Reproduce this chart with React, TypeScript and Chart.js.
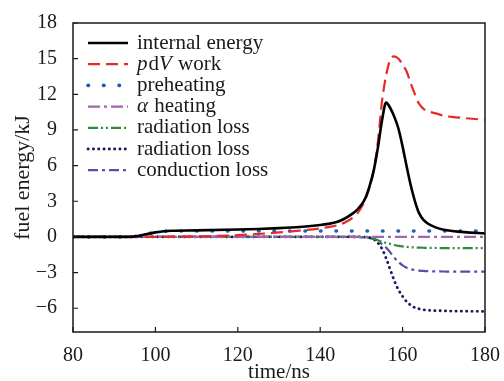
import { useEffect, useRef } from 'react';
import { Chart, registerables } from 'chart.js';
Chart.register(...registerables);

const times = [80, 90, 94, 96, 98, 100, 102, 104, 110, 120, 125, 130, 135, 140, 142, 144, 146, 148, 149, 150, 151, 152, 153, 154, 155, 156, 157, 158, 159, 160, 161, 162, 163, 164, 165, 166, 168, 170, 172, 175, 180];

const internalEnergy = [0, 0, 0, 0.1, 0.25, 0.38, 0.48, 0.52, 0.55, 0.62, 0.67, 0.74, 0.84, 1.0, 1.1, 1.25, 1.55, 2.0, 2.3, 2.7, 3.3, 4.3, 5.6, 7.5, 9.8, 11.3, 10.85, 10.1, 9.1, 7.6, 5.9, 4.3, 3.0, 2.0, 1.45, 1.15, 0.8, 0.6, 0.5, 0.4, 0.3];
const pdVWork = [0, 0, 0, 0, 0, 0, 0.01, 0.02, 0.05, 0.15, 0.25, 0.38, 0.53, 0.72, 0.82, 0.97, 1.22, 1.65, 1.97, 2.5, 3.2, 4.2, 5.6, 8.0, 11.4, 13.6, 14.9, 15.2, 15.0, 14.5, 13.9, 12.9, 12.0, 11.2, 10.8, 10.6, 10.4, 10.2, 10.1, 10.0, 9.85];
const preheating = [0, 0, 0, 0.1, 0.25, 0.38, 0.47, 0.5, 0.5, 0.5, 0.5, 0.5, 0.5, 0.5, 0.5, 0.5, 0.5, 0.5, 0.5, 0.5, 0.5, 0.5, 0.5, 0.5, 0.5, 0.5, 0.5, 0.5, 0.5, 0.5, 0.5, 0.5, 0.5, 0.5, 0.5, 0.5, 0.5, 0.5, 0.5, 0.5, 0.5];
const alphaHeating = [0, 0, 0, 0, 0, 0, 0, 0, 0, 0, 0, 0, 0, 0, 0, 0, 0, 0, 0, 0, 0, 0, 0, 0, 0, 0, 0, 0, 0, 0, 0, 0, 0, 0, 0, 0, 0, 0, 0, 0, 0];
const radiationLossA = [0, 0, 0, 0, 0, 0, 0, 0, 0, 0, 0, 0, 0, 0, 0, 0, 0, 0, 0, -0.01, -0.02, -0.06, -0.15, -0.28, -0.4, -0.5, -0.59, -0.68, -0.75, -0.8, -0.84, -0.87, -0.89, -0.9, -0.91, -0.92, -0.93, -0.94, -0.94, -0.95, -0.95];
const radiationLossB = [0, 0, 0, 0, 0, 0, 0, 0, 0, 0, 0, 0, 0, 0, 0, 0, 0, 0, 0, -0.01, -0.02, -0.05, -0.2, -0.5, -1.0, -1.8, -2.75, -3.7, -4.45, -5.0, -5.45, -5.75, -5.95, -6.05, -6.12, -6.16, -6.2, -6.22, -6.24, -6.25, -6.27];
const conductionLoss = [0, 0, 0, 0, 0, 0, 0, 0, 0, 0, 0, 0, 0, 0, 0, 0, 0, 0, -0.02, -0.03, -0.06, -0.1, -0.18, -0.35, -0.6, -0.9, -1.3, -1.75, -2.1, -2.4, -2.6, -2.72, -2.79, -2.83, -2.86, -2.88, -2.9, -2.91, -2.92, -2.92, -2.92];

const xTicks = [80, 100, 120, 140, 160, 180];
const yTicks = [-6, -3, 0, 3, 6, 9, 12, 15, 18];

// legend label pieces: [text, italic]
const legendLabels: [string, boolean][][] = [
  [['internal energy', false]],
  [['p', true], ['d', false], ['V', true], [' work', false]],
  [['preheating', false]],
  [['\u03b1', true], [' heating', false]],
  [['radiation loss', false]],
  [['radiation loss', false]],
  [['conduction loss', false]],
];

const FONT = "'Liberation Serif', 'Times New Roman', serif";

const seriesStyles = [
  { data: internalEnergy, color: '#000000', width: 2.6, dash: [] as number[], cap: 'butt' },
  { data: pdVWork, color: '#e8292b', width: 2.2, dash: [12, 6], cap: 'butt' },
  { data: preheating, color: '#1f5eb0', width: 3.6, dash: [0.5, 15], cap: 'round' },
  { data: alphaHeating, color: '#a364ab', width: 2.4, dash: [12, 4, 3, 4], cap: 'butt' },
  { data: radiationLossA, color: '#2e8b3c', width: 2.2, dash: [10, 3, 2, 3, 2, 3], cap: 'butt' },
  { data: radiationLossB, color: '#1e1f5c', width: 2.8, dash: [0.3, 5], cap: 'round' },
  { data: conductionLoss, color: '#5a4ea8', width: 2.2, dash: [10, 4, 3, 4], cap: 'butt' },
];

const framePlugin = {
  id: 'frameTicks',
  afterDatasetsDraw(chart: any) {
    const { ctx, chartArea: a, scales } = chart;
    ctx.save();
    ctx.strokeStyle = '#1a1a1a';
    ctx.lineWidth = 1.5;
    ctx.setLineDash([]);
    ctx.strokeRect(a.left, a.top, a.right - a.left, a.bottom - a.top);
    ctx.lineWidth = 1.2;
    ctx.beginPath();
    for (const v of xTicks) {
      const x = scales.x.getPixelForValue(v);
      ctx.moveTo(x, a.bottom);
      ctx.lineTo(x, a.bottom - 5);
    }
    for (const v of yTicks) {
      const y = scales.y.getPixelForValue(v);
      ctx.moveTo(a.left, y);
      ctx.lineTo(a.left + 5, y);
    }
    ctx.stroke();

    // legend
    const fs = 21;
    chart.data.datasets.forEach((ds: any, i: number) => {
      const cy = a.top + 20 + i * 21.2;
      const x0 = a.left + 15;
      ctx.save();
      ctx.strokeStyle = ds.borderColor;
      ctx.lineWidth = ds.borderWidth;
      ctx.setLineDash(ds.borderDash || []);
      ctx.lineCap = ds.borderCapStyle || 'butt';
      ctx.beginPath();
      ctx.moveTo(x0, cy);
      ctx.lineTo(x0 + 40, cy);
      ctx.stroke();
      ctx.restore();
      let tx = a.left + 64;
      ctx.fillStyle = '#1a1a1a';
      ctx.textBaseline = 'middle';
      ctx.textAlign = 'left';
      for (const [t, it] of legendLabels[i]) {
        ctx.font = `${it ? 'italic ' : ''}${fs}px ${FONT}`;
        ctx.fillText(t, tx, cy);
        tx += ctx.measureText(t).width + (it ? 1 : 0);
      }
    });
    ctx.restore();
  },
};

export default function App() {
  const ref = useRef<HTMLCanvasElement>(null);
  useEffect(() => {
    if (!ref.current) return;
    const datasets = seriesStyles.map((s, i) => ({
      label: legendLabels[i].map((p) => p[0]).join(''),
      data: times.map((t, j) => ({ x: t, y: s.data[j] })),
      borderColor: s.color,
      backgroundColor: s.color,
      borderWidth: s.width,
      borderDash: s.dash,
      borderCapStyle: s.cap,
      pointRadius: 0,
      fill: false,
      cubicInterpolationMode: 'monotone' as const,
      order: i,
    }));
    const chart = new Chart(ref.current, {
      type: 'line',
      data: { datasets },
      plugins: [framePlugin],
      options: {
        animation: false,
        responsive: false,
        maintainAspectRatio: false,
        layout: { padding: { top: 23, right: 16, left: 0, bottom: 0 } },
        plugins: { legend: { display: false }, tooltip: { enabled: false } },
        scales: {
          x: {
            type: 'linear',
            min: 80,
            max: 180,
            grid: { display: false },
            border: { display: false },
            afterBuildTicks: (s: any) => { s.ticks = xTicks.map((v) => ({ value: v })); },
            afterFit: (s: any) => { s.height = 49; },
            ticks: { font: { family: FONT, size: 20 }, color: '#1a1a1a', padding: 4, maxRotation: 0 },
            title: { display: true, text: 'time/ns', font: { family: FONT, size: 21, lineHeight: 1 }, color: '#1a1a1a', padding: { top: 0, bottom: -2 } },
          },
          y: {
            type: 'linear',
            min: -8,
            max: 18,
            grid: { display: false },
            border: { display: false },
            afterBuildTicks: (s: any) => { s.ticks = yTicks.map((v) => ({ value: v })); },
            afterFit: (s: any) => { s.width = 73; },
            ticks: {
              font: { family: FONT, size: 20 },
              color: '#1a1a1a',
              padding: 8,
              callback: (v: any) => String(v).replace('-', '\u2212'),
            },
            title: { display: true, text: 'fuel energy/kJ', font: { family: FONT, size: 22, lineHeight: 1 }, color: '#1a1a1a', padding: { top: 12, bottom: 0 } },
          },
        },
      },
    });
    return () => chart.destroy();
  }, []);
  return (
    <div style={{ position: 'absolute', left: 0, top: 0, width: 504, height: 381, background: '#fff' }}>
      <canvas ref={ref} width={504} height={381} style={{ display: 'block' }} />
    </div>
  );
}
